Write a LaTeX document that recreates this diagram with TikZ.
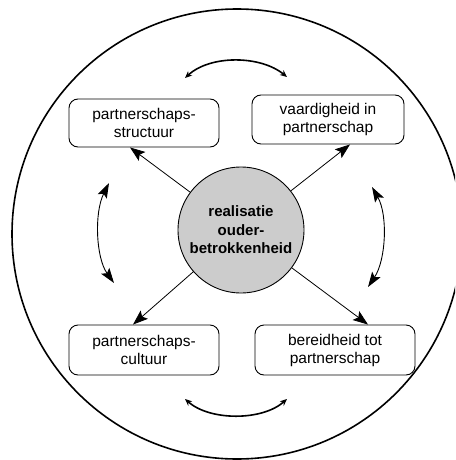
\documentclass[tikz,border=0pt]{standalone}
\usepackage{fontspec}
\setmainfont{Liberation Sans}
\usetikzlibrary{arrows.meta}
\begin{document}
\begin{tikzpicture}[x=1pt,y=-1pt,
  box/.style={draw, rounded corners=9pt, line width=0.9pt, align=center,
    font=\fontsize{15.5}{18}\selectfont, inner sep=0pt},
  hub/.style={circle, draw, fill=black!20, line width=0.9pt, minimum size=126pt,
    align=center, font=\fontsize{15}{18.5}\selectfont\bfseries, inner sep=0pt},
  spoke/.style={-{Stealth[length=15pt,width=11pt,inset=3pt]}, line width=0.8pt},
  swing/.style={{Stealth[length=15pt,width=10pt,inset=3pt]}-{Stealth[length=15pt,width=10pt,inset=3pt]}, line width=0.9pt},
  sway/.style={{Stealth[length=7pt,width=6pt]}-{Stealth[length=7pt,width=6pt]}, line width=1.6pt}]
\useasboundingbox (0,0) rectangle (455,460);
\clip (0,0) rectangle (455,460);
% outer circle
\draw[line width=1.6pt] (237,234) circle[radius=225pt];
% nodes
\node[hub] (c) at (241,230) {realisatie\\ouder-\\betrokkenheid};
\node[box, minimum width=150pt, minimum height=48pt] (tl) at (144,123) {partnerschaps-\\structuur};
\node[box, minimum width=152pt, minimum height=49pt] (tr) at (328,119.5) {vaardigheid in\\partnerschap};
\node[box, minimum width=150pt, minimum height=50pt] (bl) at (144,350) {partnerschaps-\\cultuur};
\node[box, minimum width=160pt, minimum height=50pt] (br) at (335,350) {bereidheid tot\\partnerschap};
% spokes
\draw[spoke] (c) -- ([xshift=-14pt]tl.south);
\draw[spoke] (c) -- ([xshift=22pt]tr.south);
\draw[spoke] (c) -- ([xshift=-11pt]bl.north);
\draw[spoke] (c) -- ([xshift=33pt]br.north);
% curved double arrows
\coordinate (ta) at (185,78);
\coordinate (tb) at (287,77);
\coordinate (ba) at (185,399);
\coordinate (bb) at (287,399);
\coordinate (la) at (109,183);
\coordinate (lb) at (114,283);
\coordinate (ra) at (372,187);
\coordinate (rb) at (368,287);
\draw[sway] (ta) .. controls (210,55) and (260,55) .. (tb);
\draw[sway] (ba) .. controls (210,421) and (262,421) .. (bb);
\draw[swing] (la) .. controls (94,213) and (96,258) .. (lb);
\draw[swing] (ra) .. controls (388,215) and (386,260) .. (rb);
\end{tikzpicture}
\end{document}
